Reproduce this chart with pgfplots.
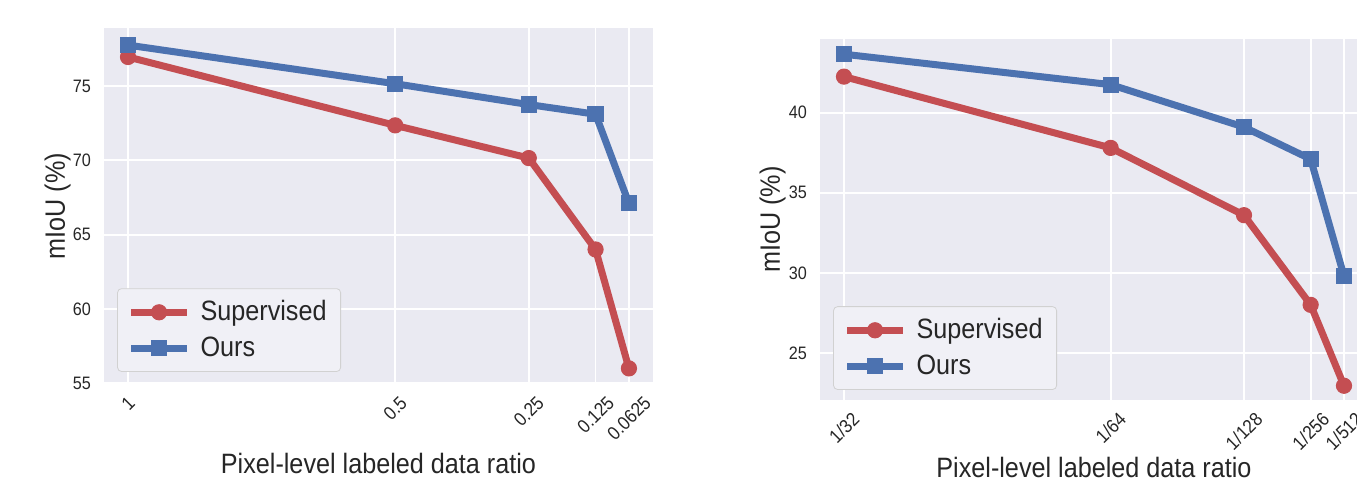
\documentclass[border=0pt]{standalone}
\usepackage{fontspec}
\setmainfont[FakeStretch=0.9]{Liberation Sans}
\usepackage{pgfplots}
\pgfplotsset{compat=1.18}
\definecolor{sbred}{HTML}{C44E52}
\definecolor{sbblue}{HTML}{4C72B0}
\definecolor{sbbg}{HTML}{EAEAF2}
\definecolor{sbtext}{HTML}{262626}
\pgfplotsset{
  sbstyle/.style={
    scale only axis,
    anchor=south west,
    axis background/.style={fill=sbbg},
    axis line style={draw=none},
    major tick length=0pt,
    xmajorgrids, ymajorgrids,
    major grid style={white, line width=0.9pt},
    x dir=reverse,
    xmin=0.0175, xmax=1.045,
    xtick={1,0.5,0.25,0.125,0.0625},
    tick label style={font=\fontsize{9}{10}\selectfont, text=sbtext},
    yticklabel style={xshift=-3pt},
    xticklabel style={yshift=-2pt, font=\fontsize{9.5}{10}\selectfont},
    /pgf/number format/assume math mode=true,
    xlabel={Pixel-level labeled data ratio},
    ylabel={mIoU (\%)},
    label style={font=\fontsize{14}{16}\selectfont, text=sbtext},
    legend style={anchor=south west, fill=sbbg!70!white, draw=black!18,
      rounded corners=2pt, font=\fontsize{14}{16}\selectfont, text=sbtext,
      inner xsep=5pt, inner ysep=4pt, row sep=2.5pt, column sep=3pt},
    legend cell align=left,
    legend image code/.code={\draw[mark repeat=2, mark phase=2] plot coordinates {(0pt,0pt)(14pt,0pt)(28pt,0pt)};},
  },
  sup/.style={color=sbred, line width=3.5pt, mark=*, mark size=3.8pt, mark options={solid, line width=0.5pt, fill=sbred, draw=sbred}},
  ours/.style={color=sbblue, line width=3.5pt, mark=square*, mark size=3.8pt, mark options={solid, line width=0.5pt, fill=sbblue, draw=sbblue}},
}
\begin{document}
\begin{tikzpicture}
\path[use as bounding box] (0,0) rectangle (678.5pt,241pt);
\clip (0,0) rectangle (678.5pt,241pt);
\begin{axis}[sbstyle,
  at={(52pt,49pt)}, width=274.5pt, height=178pt,
  ymin=54.95, ymax=78.9,
  ytick={55,60,65,70,75},
  xticklabels={{\rotatebox{45}{1}},{\rotatebox{45}{0.5}},{\rotatebox{45}{0.25}},{\rotatebox{45}{0.125}},{\rotatebox{45}{0.0625}}},
  xlabel style={at={([yshift=-45pt]rel axis cs:0.5,0)}, anchor=base},
  ylabel style={at={([xshift=-19.5pt]rel axis cs:0,0.5)}, anchor=base},
  legend style={at={(0.024,0.034)}},
]
\addplot[sup] coordinates {(1,76.95) (0.5,72.35) (0.25,70.15) (0.125,64.0) (0.0625,56.0)};
\addlegendentry{Supervised}
\addplot[ours] coordinates {(1,77.75) (0.5,75.15) (0.25,73.75) (0.125,73.1) (0.0625,67.1)};
\addlegendentry{Ours}
\end{axis}
\begin{axis}[sbstyle,
  at={(410pt,41pt)}, width=274pt, height=180.5pt,
  ymin=22.06, ymax=44.6,
  ytick={25,30,35,40},
  xticklabels={{\rotatebox{45}{1/32}},{\rotatebox{45}{1/64}},{\rotatebox{45}{1/128}},{\rotatebox{45}{1/256}},{\rotatebox{45}{1/512}}},
  xlabel style={at={([yshift=-39pt]rel axis cs:0.5,0)}, anchor=base},
  ylabel style={at={([xshift=-20pt]rel axis cs:0,0.5)}, anchor=base},
  legend style={at={(0.024,0.028)}},
]
\addplot[sup] coordinates {(1,42.25) (0.5,37.8) (0.25,33.6) (0.125,28.0) (0.0625,22.95)};
\addlegendentry{Supervised}
\addplot[ours] coordinates {(1,43.65) (0.5,41.75) (0.25,39.1) (0.125,37.1) (0.0625,29.8)};
\addlegendentry{Ours}
\end{axis}
\end{tikzpicture}
\end{document}
